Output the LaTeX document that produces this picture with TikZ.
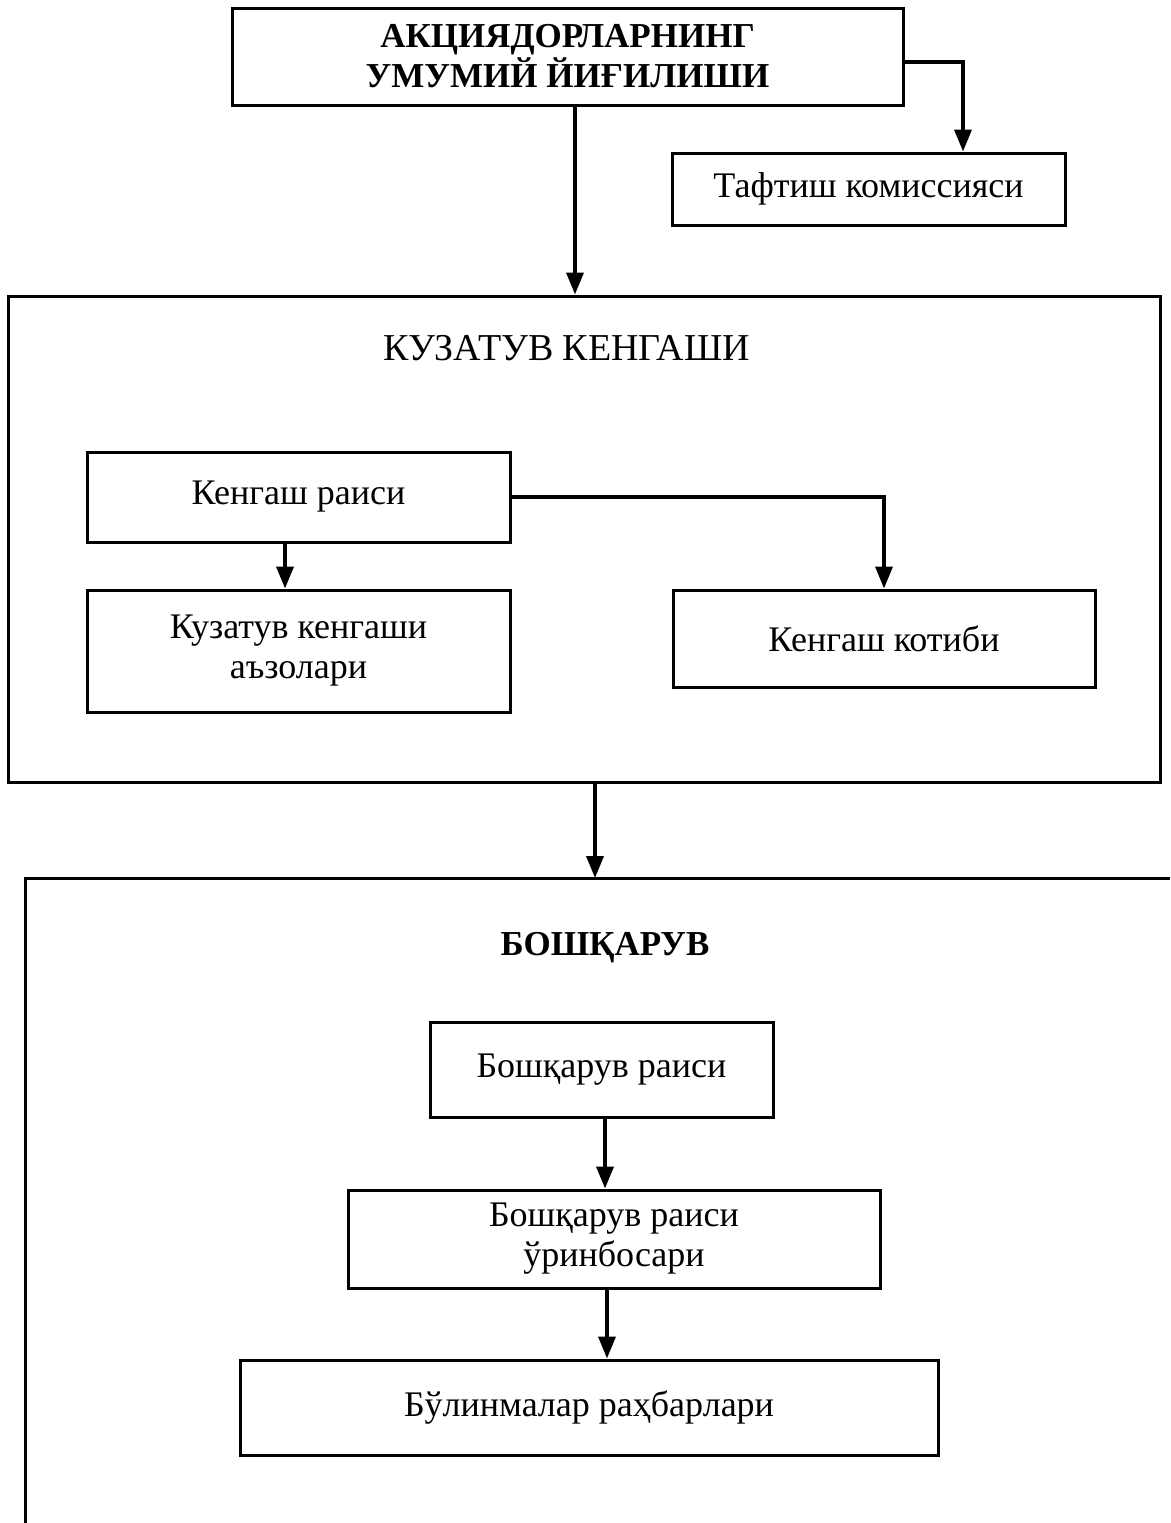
\documentclass[tikz,border=0pt]{standalone}
\usepackage{fontspec}
\setmainfont{Liberation Serif}
\usetikzlibrary{arrows.meta}
\begin{document}
\begin{tikzpicture}[x=1pt,y=-1pt,
  box/.style={draw,line width=3pt,rectangle,inner sep=0pt,align=center,font=\fontsize{36}{40}\selectfont},
  conn/.style={line width=3.6pt},
  arr/.style={conn,-{Triangle[length=22pt,width=17pt]}},
  ttl/.style={font=\fontsize{38}{42}\selectfont}]
\useasboundingbox (0,0) rectangle (1170,1523);
\fill[white] (0,0) rectangle (1170,1523);
% nodes
\node[box,minimum width=671pt,minimum height=97pt,font=\bfseries\fontsize{35}{40}\selectfont] (top) at (567.5,56.5) {АКЦИЯДОРЛАРНИНГ\\УМУМИЙ ЙИҒИЛИШИ};
\node[box,minimum width=393pt,minimum height=72pt] (taf) at (868.5,189) {Тафтиш комиссияси};
\node[box,minimum width=1152pt,minimum height=486pt] (kuz) at (584,539) {};
\node[ttl] (kuzt) at (567,348) {КУЗАТУВ КЕНГАШИ};
\node[box,minimum width=423pt,minimum height=90pt] (rais) at (298.5,497) {Кенгаш раиси};
\node[box,minimum width=423pt,minimum height=122pt] (azo) at (298.5,651) {Кузатув кенгаши\\аъзолари};
\node[box,minimum width=422pt,minimum height=97pt] (kot) at (884,638.5) {Кенгаш котиби};
\coordinate (bt) at (25,878);
\coordinate (bl) at (25,1523);
\coordinate (br) at (1170,878);
\draw[line width=3pt] (bl) -- (bt) -- (br);
\node[ttl,font=\bfseries\fontsize{35}{40}\selectfont] (bosht) at (605,948) {БОШҚАРУВ};
\node[box,minimum width=343pt,minimum height=95pt] (brs) at (601.5,1069.5) {Бошқарув раиси};
\node[box,minimum width=532pt,minimum height=98pt] (bro) at (614,1239) {Бошқарув раиси\\ўринбосари};
\node[box,minimum width=698pt,minimum height=95pt] (bul) at (589,1407.5) {Бўлинмалар раҳбарлари};
% connector helpers
\coordinate (x1) at (575,0);
\coordinate (x2) at (963,0);
\coordinate (x3) at (285,0);
\coordinate (x4) at (595,0);
\coordinate (x5) at (605,0);
\coordinate (x6) at (607,0);
\coordinate (y1) at (0,62);
% connectors
\draw[arr] (top.south -| x1) -- (kuz.north -| x1);
\draw[arr] (top.east |- y1) -| (taf.north -| x2);
\draw[arr] (rais.south -| x3) -- (azo.north -| x3);
\draw[arr] (rais.east) -| (kot.north);
\draw[arr] (kuz.south -| x4) -- (bt -| x4);
\draw[arr] (brs.south -| x5) -- (bro.north -| x5);
\draw[arr] (bro.south -| x6) -- (bul.north -| x6);
\end{tikzpicture}
\end{document}
